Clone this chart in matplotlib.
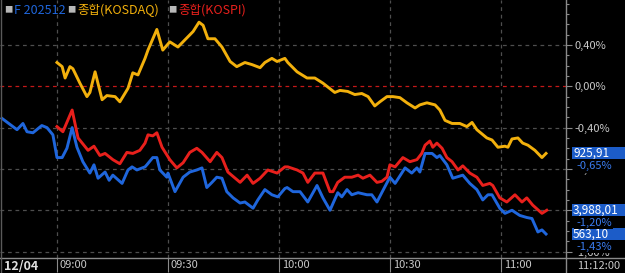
import numpy as np
import matplotlib.pyplot as plt
import matplotlib.transforms as mtransforms
from matplotlib.patches import Rectangle
from matplotlib.lines import Line2D

plt.rcParams['font.family'] = ['Noto Sans CJK KR', 'DejaVu Sans']

# minutes after 09:00, percent change
fut_t = [-14.9, -10.8, -9.2, -8.1, -6.5, -4.1, -2.7, -1.1, 0.0, 1.4, 2.7, 4.1, 5.4, 7.0,
         8.9, 10.0, 11.1, 13.0, 14.1, 15.1, 17.6, 19.2, 20.3, 21.6, 23.8, 24.3, 25.9, 27.0,
         27.8, 29.7, 30.0, 31.9, 34.1, 35.9, 37.8, 39.2, 40.5, 41.9, 43.2, 44.6, 45.9, 47.6,
         49.5, 50.8, 53.0, 54.3, 56.2, 58.1, 59.7, 61.6, 62.2, 63.8, 65.7, 67.8, 70.3, 71.9,
         73.8, 75.9, 77.0, 78.4, 79.7, 81.4, 83.8, 85.1, 86.5, 87.8, 90.0, 91.4, 94.1, 95.9,
         97.3, 98.1, 99.5, 101.4, 102.7, 103.5, 105.4, 107.0, 109.7, 111.6, 113.5, 115.1,
         116.5, 117.6, 119.7, 121.1, 123.0, 125.1, 127.0, 128.4, 130.0, 131.1, 132.2]
fut_pct = [-0.31, -0.42, -0.36, -0.44, -0.45, -0.38, -0.40, -0.47, -0.69, -0.69, -0.60, -0.40,
           -0.59, -0.73, -0.84, -0.76, -0.89, -0.83, -0.91, -0.86, -0.94, -0.81, -0.78, -0.81,
           -0.78, -0.76, -0.69, -0.69, -0.81, -0.88, -0.84, -1.02, -0.88, -0.83, -0.81, -0.79,
           -0.98, -0.93, -0.88, -0.89, -1.02, -1.08, -1.13, -1.12, -1.18, -1.10, -1.00, -1.05,
           -1.07, -0.99, -0.98, -1.02, -1.02, -1.12, -0.96, -1.08, -1.20, -1.03, -1.07, -1.00,
           -1.05, -1.03, -1.05, -1.05, -1.12, -1.03, -0.88, -0.94, -0.79, -0.84, -0.79, -0.83,
           -0.65, -0.65, -0.69, -0.67, -0.76, -0.89, -0.86, -0.94, -1.00, -1.10, -1.05, -1.05,
           -1.18, -1.23, -1.20, -1.25, -1.27, -1.28, -1.41, -1.39, -1.43]

kospi_t = [0.0, 1.6, 4.1, 5.7, 8.4, 10.0, 11.6, 13.0, 15.1, 17.0, 18.9, 20.5, 22.4, 23.8,
           24.6, 25.9, 27.0, 28.4, 30.5, 32.4, 34.1, 35.9, 37.8, 39.2, 41.4, 43.2, 44.6, 46.2,
           49.5, 51.4, 53.0, 54.9, 57.0, 59.5, 61.6, 62.4, 64.9, 66.5, 67.8, 69.7, 71.9, 73.8,
           74.6, 75.9, 77.8, 79.7, 81.4, 82.7, 84.6, 86.5, 87.8, 89.2, 90.0, 91.4, 93.5, 95.4,
           97.3, 98.6, 99.5, 100.8, 101.6, 102.7, 104.1, 105.4, 106.8, 108.4, 109.7, 111.6,
           113.5, 115.1, 117.0, 117.8, 119.7, 121.6, 123.8, 125.7, 127.0, 128.6, 131.1, 132.4]
kospi_pct = [-0.39, -0.44, -0.23, -0.50, -0.62, -0.58, -0.67, -0.65, -0.71, -0.75, -0.64, -0.65,
             -0.62, -0.55, -0.47, -0.48, -0.45, -0.59, -0.71, -0.79, -0.74, -0.64, -0.60, -0.64,
             -0.73, -0.64, -0.69, -0.83, -0.93, -0.86, -0.94, -0.89, -0.81, -0.84, -0.78, -0.78,
             -0.81, -0.84, -0.93, -0.84, -0.84, -1.02, -1.02, -0.93, -0.88, -0.88, -0.86, -0.89,
             -0.86, -0.93, -0.92, -0.88, -0.76, -0.78, -0.69, -0.73, -0.71, -0.65, -0.57, -0.53,
             -0.59, -0.55, -0.60, -0.69, -0.73, -0.81, -0.77, -0.84, -0.88, -0.96, -0.94, -0.96,
             -1.08, -1.12, -1.05, -1.12, -1.08, -1.15, -1.23, -1.20]

kosdaq_t = [0.0, 1.4, 2.2, 3.5, 4.3, 6.2, 8.1, 8.9, 10.3, 12.2, 13.5, 15.7, 17.0, 19.2, 20.5,
            21.9, 23.8, 24.6, 27.0, 28.6, 30.5, 32.7, 36.8, 38.4, 39.5, 40.8, 42.7, 44.6, 46.8,
            48.6, 50.8, 52.7, 54.9, 56.2, 58.1, 59.5, 61.6, 62.4, 64.9, 67.6, 69.7, 71.9, 75.1,
            76.5, 78.6, 80.5, 82.4, 84.1, 85.9, 87.3, 89.2, 90.8, 92.7, 94.6, 96.8, 98.1, 100.0,
            102.2, 103.5, 104.9, 106.8, 108.9, 110.8, 112.2, 113.5, 116.2, 117.6, 119.2, 121.1,
            121.9, 123.0, 124.6, 125.9, 127.3, 129.2, 131.1, 132.2]
kosdaq_pct = [0.23, 0.19, 0.08, 0.19, 0.17, 0.03, -0.10, -0.06, 0.14, -0.13, -0.09, -0.10,
              -0.15, -0.02, 0.13, 0.11, 0.27, 0.35, 0.55, 0.35, 0.43, 0.38, 0.53, 0.62, 0.59,
              0.46, 0.46, 0.38, 0.24, 0.19, 0.23, 0.21, 0.18, 0.23, 0.27, 0.24, 0.27, 0.23,
              0.14, 0.08, 0.08, 0.03, -0.06, -0.04, -0.05, -0.08, -0.07, -0.10, -0.19, -0.15,
              -0.10, -0.10, -0.11, -0.16, -0.21, -0.18, -0.16, -0.18, -0.23, -0.33, -0.36,
              -0.36, -0.39, -0.35, -0.42, -0.50, -0.52, -0.59, -0.58, -0.59, -0.51, -0.50,
              -0.55, -0.57, -0.62, -0.69, -0.65]

last_values = [925.91, 3988.01, 563.10]  # KOSDAQ, KOSPI, F 202512

time_ticks = [0, 30, 60, 90, 120]
time_labels = ['09:00', '09:30', '10:00', '10:30', '11:00']
pct_ticks = [0.4, 0.0, -0.4, -0.8, -1.2, -1.6]

BLUE = '#1f66dc'
RED = '#e8201c'
ORANGE = '#f2b00c'
GRAY = '#8a8a8a'
TXT = '#c8c8c8'

W, H = 625, 273
fig = plt.figure(figsize=(W / 100, H / 100), dpi=100, facecolor='black')
ax = fig.add_axes([0, 15 / H, 566 / W, 258 / H])
ax.set_facecolor('black')
ax.set_xlim(-15.4, 137.6)
ax.set_ylim(-1.662, 0.835)
for s in ax.spines.values():
    s.set_visible(False)

# grid
for y in pct_ticks:
    if y == 0:
        ax.axhline(y, color='#c41818', lw=0.9, ls=(0, (3, 3)), zorder=1)
    else:
        ax.axhline(y, color='#4e4e4e', lw=0.9, ls=(0, (3, 3)), zorder=1)
for t in time_ticks:
    ax.axvline(t, color='#4e4e4e', lw=0.9, ls=(0, (3, 3)), zorder=1)

ax.plot(fut_t, fut_pct, color=BLUE, lw=2.1, zorder=3)
ax.plot(kospi_t, kospi_pct, color=RED, lw=2.1, zorder=4)
ax.plot(kosdaq_t, kosdaq_pct, color=ORANGE, lw=2.1, zorder=5)

# right axis
ax.yaxis.tick_right()
ax.set_yticks(pct_ticks)
ax.set_yticklabels([f'{v:.2f}%'.replace('.', ',') for v in pct_ticks])
ax.set_yticks(np.arange(-1.6, 0.81, 0.1), minor=True)
ax.tick_params(axis='y', which='major', colors=GRAY, labelcolor=TXT, length=4,
               width=0.8, labelsize=8, pad=2)
ax.tick_params(axis='y', which='minor', colors=GRAY, length=2.5, width=0.8)

# bottom axis
ax.set_xticks(time_ticks)
ax.set_xticklabels([])
ax.tick_params(axis='x', colors=GRAY, length=10, width=0.8, direction='out')
xtrans = mtransforms.blended_transform_factory(ax.transData, ax.transAxes)
off = mtransforms.ScaledTranslation(2 / 72, 0, fig.dpi_scale_trans)
for t, lab in zip(time_ticks, time_labels):
    ax.text(t, -7.5 / 258, lab, transform=xtrans + off, ha='left', va='center',
            color=TXT, fontsize=8, clip_on=False)
fig.text(4 / W, 7 / H, '12/04', color='#e0e0e0', fontsize=9, fontweight='bold',
         ha='left', va='center')
fig.text(577 / W, 7 / H, '11:12:00', color=TXT, fontsize=8, ha='left', va='center')

fig.add_artist(Line2D([0, 1], [15 / H, 15 / H], color=GRAY, lw=1.0))
fig.add_artist(Line2D([566 / W, 566 / W], [0, 1], color=GRAY, lw=1.0))
fig.add_artist(Line2D([0.6 / W, 0.6 / W], [0, 1], color='#5a5a5a', lw=1.0))

# last value boxes
btrans = mtransforms.blended_transform_factory(ax.transAxes, ax.transData)
h = 12 / 103.3
ends = [kosdaq_pct[-1], kospi_pct[-1], fut_pct[-1]]
for val, p in zip(last_values, ends):
    ax.add_patch(Rectangle((572 / 566, p - h / 2), (625 - 572) / 566, h, transform=btrans,
                           facecolor='#1c5cc8', edgecolor='none', clip_on=False, zorder=6))
    ax.text(573 / 566, p, f'{val:,.2f}'.replace('.', ','), transform=btrans, ha='left',
            va='center', color='white', fontsize=8.5, clip_on=False, zorder=7)
    ax.text(576 / 566, p - 12.5 / 103.3, f'{p:.2f}%'.replace('.', ','), transform=btrans,
            ha='left', va='center', color='#3a7cf0', fontsize=8, clip_on=False, zorder=7,
            bbox=dict(facecolor='black', edgecolor='none', pad=1.2))

# legend
legend_items = [('F 202512', BLUE, 4), ('종합(KOSDAQ)', ORANGE, 67), ('종합(KOSPI)', RED, 168)]
for name, col, x0 in legend_items:
    fig.text(x0 / W, 1 - 10 / H, '■', color='#b8b8b8', fontsize=6, ha='left', va='center')
    fig.text((x0 + 10) / W, 1 - 10 / H, name, color=col, fontsize=9, ha='left', va='center')

fig.savefig('out.png', dpi=100, facecolor='black')
